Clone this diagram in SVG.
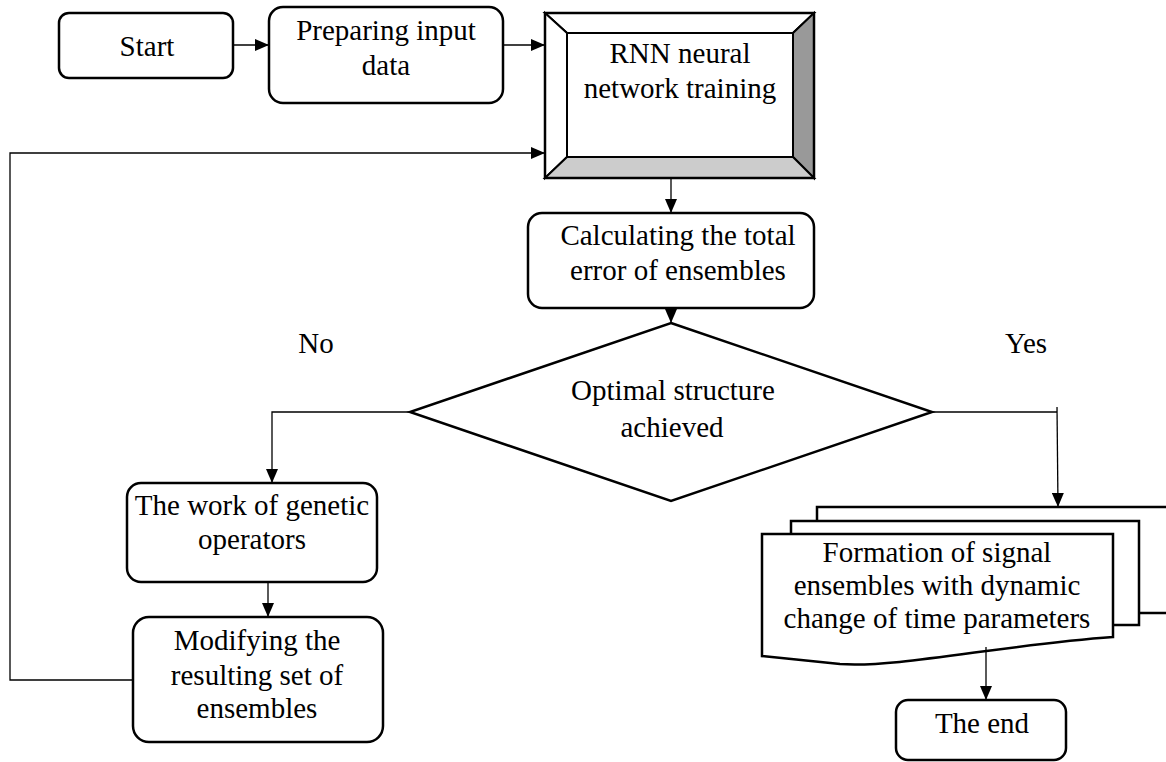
<svg xmlns="http://www.w3.org/2000/svg" width="1166" height="762" viewBox="0 0 1166 762">
<defs>
<style>
.box{fill:#fff;stroke:#000;stroke-width:2.5}
.bev{stroke:#000;stroke-width:2}
.con{fill:none;stroke:#000;stroke-width:1.3}
text{font-family:"Liberation Serif","Times New Roman",serif;font-size:29px;fill:#000;text-anchor:middle}
</style>
<marker id="ah" markerUnits="userSpaceOnUse" markerWidth="14" markerHeight="12" refX="14" refY="6" orient="auto">
<path d="M0,0 L14,6 L0,12 Z" fill="#000"/>
</marker>
</defs>
<rect width="1166" height="762" fill="#fff"/>

<g id="start">
<rect class="box" x="59" y="13" width="174" height="65" rx="10"/>
<text x="147" y="56">Start</text>
</g>

<g id="prepare">
<rect class="box" x="269" y="7" width="234" height="96" rx="14"/>
<text x="386" y="40">Preparing input</text>
<text x="386" y="75">data</text>
</g>

<g id="rnn">
<polygon class="bev" fill="#fff" points="545,13 814,13 793,33 567,33"/>
<polygon class="bev" fill="#fff" points="545,13 567,33 567,157 545,178"/>
<polygon class="bev" fill="#999" points="814,13 814,178 793,157 793,33"/>
<polygon class="bev" fill="#ccc" points="545,178 814,178 793,157 567,157"/>
<rect x="545" y="13" width="269" height="165" fill="none" stroke="#000" stroke-width="2.5"/>
<text x="680" y="63">RNN neural</text>
<text x="680" y="98">network training</text>
</g>

<g id="calc">
<rect class="box" x="528" y="213" width="286" height="95" rx="14"/>
<text x="678" y="245">Calculating the total</text>
<text x="678" y="280">error of ensembles</text>
</g>

<g id="decision">
<polygon class="box" points="671,323 932,412 671,501 410,412"/>
<text x="673" y="400">Optimal structure</text>
<text x="672" y="437">achieved</text>
</g>

<g id="genetic">
<rect class="box" x="127" y="483" width="250" height="99" rx="14"/>
<text x="252" y="515">The work of genetic</text>
<text x="252" y="549">operators</text>
</g>

<g id="modify">
<rect class="box" x="133" y="617" width="250" height="125" rx="16"/>
<text x="257" y="650">Modifying the</text>
<text x="257" y="685">resulting set of</text>
<text x="257" y="718">ensembles</text>
</g>

<g id="formation">
<path class="box" d="M817,521 V507 H1180 V613 H1139"/>
<path class="box" d="M791,534 V521 H1139 V625 H1113"/>
<path class="box" d="M762,534 H1113 V637 C1000,645 900,668 840,664 L762,656 Z"/>
<text x="937" y="562">Formation of signal</text>
<text x="937" y="595">ensembles with dynamic</text>
<text x="937" y="628">change of time parameters</text>
</g>

<g id="end">
<rect class="box" x="896" y="700" width="170" height="60" rx="12"/>
<text x="982" y="733">The end</text>
</g>

<g id="labels">
<text x="316" y="353">No</text>
<text x="1026" y="353">Yes</text>
</g>

<g id="connectors">
<path class="con" d="M233,45 H269" marker-end="url(#ah)"/>
<path class="con" d="M503,45 H545" marker-end="url(#ah)"/>
<path class="con" d="M671,178 V213" marker-end="url(#ah)"/>
<path class="con" d="M671,308 V323" marker-end="url(#ah)"/>
<path class="con" d="M410,412 H272 V483" marker-end="url(#ah)"/>
<path class="con" d="M268,582 V617" marker-end="url(#ah)"/>
<path class="con" d="M133,680 H10 V153 H545" marker-end="url(#ah)"/>
<path class="con" d="M932,412 H1057"/>
<path class="con" d="M1057,407 L1058,507" marker-end="url(#ah)"/>
<path class="con" d="M986,647 V700" marker-end="url(#ah)"/>
</g>
</svg>
